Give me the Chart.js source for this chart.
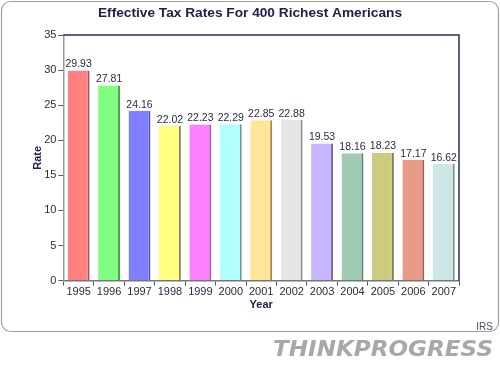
<!DOCTYPE html>
<html>
<head>
<meta charset="utf-8">
<script src="https://cdn.jsdelivr.net/npm/chart.js@4"></script>
<style>
  html, body { margin: 0; padding: 0; background: #fff; }
  #wrap { width: 500px; height: 369px; }
</style>
</head>
<body>
<div id="wrap"><canvas id="tax-chart"></canvas></div>
<script>
// values
const years = ["1995", "1996", "1997", "1998", "1999", "2000", "2001",
               "2002", "2003", "2004", "2005", "2006", "2007"];
const rates = [29.93, 27.81, 24.16, 22.02, 22.23, 22.29, 22.85,
               22.88, 19.53, 18.16, 18.23, 17.17, 16.62];
const barColors  = ["#ff8080", "#80ff80", "#8080ff", "#ffff80", "#ff80ff", "#b0ffff", "#ffe699",
                    "#e6e6e6", "#c8b4ff", "#9fcbb2", "#cccc80", "#e89a88", "#cde6e6"];
const edgeColors = ["#a85454", "#4f9f4f", "#5555a8", "#8a8a50", "#a855a8", "#6a9a9a", "#a08a50",
                    "#8a8a8a", "#7a6aa0", "#5f7f6a", "#80804f", "#9a5f55", "#7a8f8f"];

const navy = "#23204f";
const font = "'Liberation Sans', Arial, sans-serif";

// rounded frame, title, plot-area top/right border, value labels, source note and logo
const decor = {
    id: "decor",
    beforeDraw(chart) {
        const ctx = chart.ctx;
        ctx.save();
        ctx.strokeStyle = "#a0a0a0";
        ctx.lineWidth = 1.2;
        ctx.beginPath();
        ctx.roundRect(1.5, 1.5, 497, 330, 9);
        ctx.stroke();

        ctx.fillStyle = navy;
        ctx.font = "bold 13.7px " + font;
        ctx.textAlign = "center";
        ctx.textBaseline = "middle";
        ctx.fillText("Effective Tax Rates For 400 Richest Americans", 250, 13);
        ctx.restore();
    },
    afterDraw(chart) {
        const ctx = chart.ctx;
        const a = chart.chartArea;
        ctx.save();
        ctx.strokeStyle = "#2e2a5c";
        ctx.lineWidth = 1.5;
        ctx.beginPath();
        ctx.moveTo(a.left, a.top);
        ctx.lineTo(a.right, a.top);
        ctx.lineTo(a.right, a.bottom);
        ctx.stroke();

        const meta = chart.getDatasetMeta(0);
        ctx.fillStyle = "#2a2a44";
        ctx.font = "10.5px " + font;
        ctx.textAlign = "center";
        ctx.textBaseline = "bottom";
        meta.data.forEach((bar, i) => {
            ctx.fillText(rates[i].toFixed(2), bar.x, bar.y - 1);
        });

        ctx.fillStyle = "#4a4a7a";
        ctx.font = "10px " + font;
        ctx.textAlign = "right";
        ctx.textBaseline = "alphabetic";
        ctx.fillText("IRS", 493, 330);

        ctx.font = "italic bold 22px 'DejaVu Sans', sans-serif";
        ctx.fillStyle = "#a8a8a8";
        ctx.textAlign = "left";
        const txt = "THINKPROGRESS";
        const w = ctx.measureText(txt).width;
        ctx.translate(273, 356);
        ctx.scale(220 / w, 1);
        ctx.fillText(txt, 0, 0);
        ctx.restore();
    }
};

new Chart(document.getElementById("tax-chart"), {
    type: "bar",
    data: {
        labels: years,
        datasets: [{
            label: "Rate",
            data: rates,
            backgroundColor: barColors,
            borderColor: edgeColors,
            borderWidth: { right: 2, top: 0, left: 0, bottom: 0 },
            borderSkipped: false,
            barPercentage: 0.72,
            categoryPercentage: 1.0,
        }],
    },
    options: {
        responsive: true,
        maintainAspectRatio: false,
        animation: false,
        layout: { padding: { left: 31, right: 41, top: 35, bottom: 57 } },
        plugins: {
            legend: { display: false },
            tooltip: { enabled: false },
            title: { display: false },
        },
        scales: {
            x: {
                grid: { drawOnChartArea: false, drawTicks: true, tickLength: 5, color: "#555" },
                border: { color: "#777", width: 1.5 },
                ticks: { color: "#2a2a44", font: { family: font, size: 11 }, padding: 0, maxRotation: 0 },
                title: { display: true, text: "Year", color: navy,
                         font: { family: font, size: 11, weight: "bold" }, padding: { top: 0, bottom: 0 } },
            },
            y: {
                min: 0,
                max: 35,
                ticks: { stepSize: 5, color: "#2a2a44", font: { family: font, size: 11 }, padding: 2 },
                grid: { drawOnChartArea: false, drawTicks: true, tickLength: 5, color: "#555" },
                border: { color: "#999", width: 1.5 },
                title: { display: true, text: "Rate", color: navy,
                         font: { family: font, size: 11, weight: "bold" }, padding: { top: 0, bottom: -2 } },
            },
        },
    },
    plugins: [decor],
});
</script>
</body>
</html>
